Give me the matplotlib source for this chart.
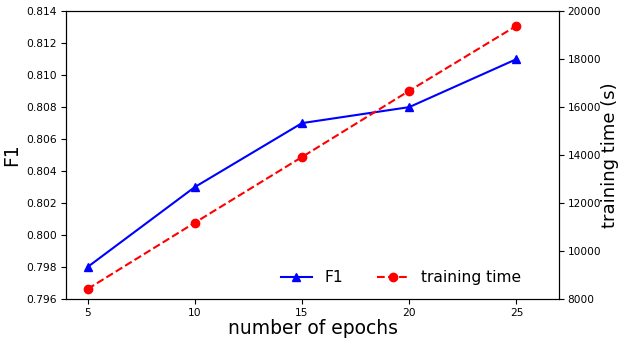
import matplotlib
matplotlib.use("Agg")
import matplotlib.pyplot as plt

# data
epochs = [5, 10, 15, 20, 25]
f1 = [0.798, 0.803, 0.807, 0.808, 0.811]
train_time = [8415, 11180, 13920, 16680, 19390]

fig, ax1 = plt.subplots(figsize=(6.18, 3.39), dpi=100)
ax2 = ax1.twinx()

l1, = ax1.plot(epochs, f1, color="blue", marker="^", label="F1")
l2, = ax2.plot(epochs, train_time, color="red", linestyle="--", marker="o", label="training time")

ax1.set_xlim(4, 27)
ax1.set_ylim(0.796, 0.814)
ax1.set_yticks([0.796 + 0.002 * i for i in range(10)])
ax2.set_ylim(8000, 20000)
ax1.set_xticks(epochs)

ax1.tick_params(labelsize=7.7, pad=3)
ax2.tick_params(labelsize=7.6, pad=2.5)
ax1.set_xlabel("number of epochs", fontsize=13.5, labelpad=1)
ax1.set_ylabel("F1", fontsize=13.5, labelpad=4)
ax2.set_ylabel("training time (s)", fontsize=13, labelpad=0)

ax1.legend([l1, l2], ["F1", "training time"], loc="lower right", ncol=2,
           frameon=False, fontsize=11.2, columnspacing=2.2,
           bbox_to_anchor=(0.95, 0.0))

plt.subplots_adjust(left=0.107, right=0.905, top=0.967, bottom=0.118)
plt.savefig("out.png")
